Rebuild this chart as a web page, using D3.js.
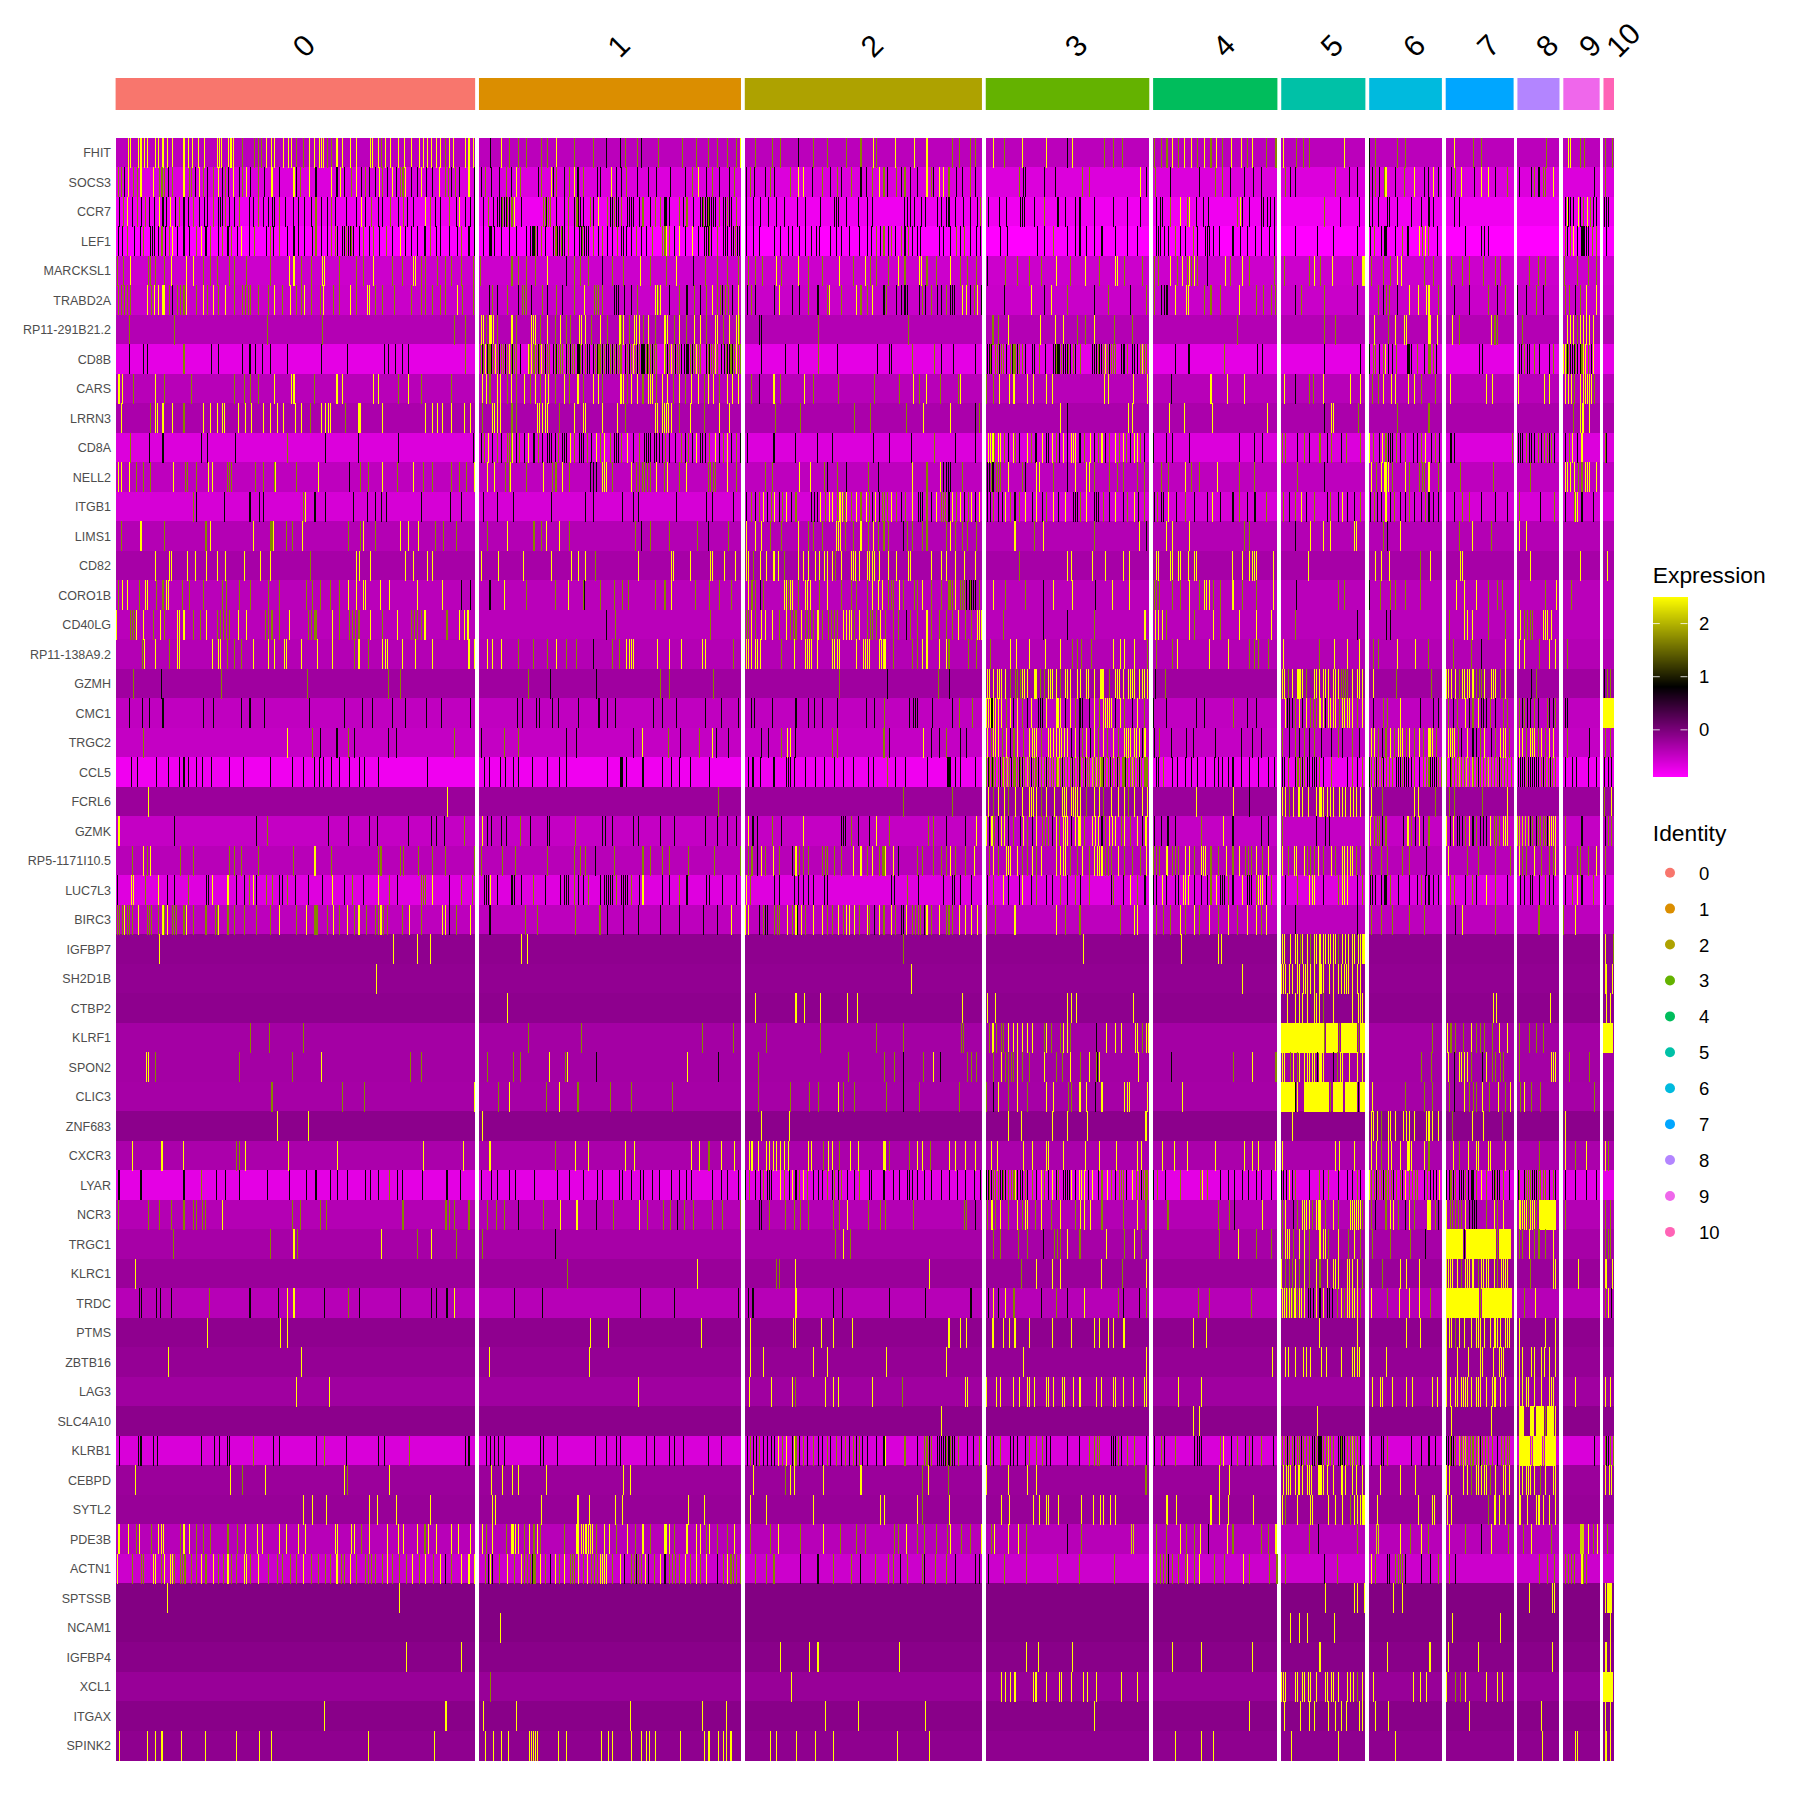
<!DOCTYPE html>
<html><head><meta charset="utf-8">
<script src="https://cdn.jsdelivr.net/npm/d3@7"></script>
<style>html,body{margin:0;padding:0;background:#fff}svg{display:block;font-family:"Liberation Sans",Arial,sans-serif}</style>
</head><body><div id="chart"></div>
<script>
const clusters=["0","1","2","3","4","5","6","7","8","9","10"];
const clusterColors=["#F8766D","#DB8E00","#AEA200","#64B200","#00BD5C","#00C1A7","#00BADE","#00A6FF","#B385FF","#EF67EB","#FF63B6"];
// columns per cluster, with blank spacer columns between groups
const clusterColumns=[376,274,248,171,130,88,76,71,44,38,11];
const spacerColumns=4;
const genes=["FHIT","SOCS3","CCR7","LEF1","MARCKSL1","TRABD2A","RP11-291B21.2","CD8B","CARS","LRRN3","CD8A","NELL2","ITGB1","LIMS1","CD82","CORO1B","CD40LG","RP11-138A9.2","GZMH","CMC1","TRGC2","CCL5","FCRL6","GZMK","RP5-1171I10.5","LUC7L3","BIRC3","IGFBP7","SH2D1B","CTBP2","KLRF1","SPON2","CLIC3","ZNF683","CXCR3","LYAR","NCR3","TRGC1","KLRC1","TRDC","PTMS","ZBTB16","LAG3","SLC4A10","KLRB1","CEBPD","SYTL2","PDE3B","ACTN1","SPTSSB","NCAM1","IGFBP4","XCL1","ITGAX","SPINK2"];
// value of cells with no detected expression, per gene
const baseExpression=[-.43,-.65,-.78,-.88,-.54,-.52,-.38,-.71,-.41,-.32,-.65,-.45,-.61,-.38,-.30,-.42,-.42,-.38,-.25,-.46,-.49,-.78,-.22,-.49,-.41,-.67,-.44,-.14,-.16,-.13,-.28,-.28,-.29,-.12,-.32,-.70,-.38,-.30,-.21,-.40,-.14,-.18,-.25,-.12,-.63,-.22,-.20,-.41,-.54,-.06,-.06,-.10,-.20,-.10,-.14];
// expression levels of the stripe letters
const levels={y:2.5,l:2.2,o:1.7,k:.85};
// for each gene: expressing columns, letter = level, "a-b" = run; before | column index, after | index from column 784
const expressedColumns=[
"y14 16 24 27 31 34 42 45 50 55 60 72 77 81 87 93 107 109 111 119 121 122 124 o133 146 150 153 y158 163 167 176 181 184 o190 197 y203 208 214 216 218 o222 226 y232 238 246 252 267 269 y275 o279 y283 288 296 303 310 y318 322 327 331 336 340 o345 y350 354 366 370 375 k393 y404 o412 422 430 446 452 y462 o480 500 k514 k528 o534 o546 k550 o568 593 608 620 630 640 650 y654 o670 687 696 k715 o730 745 765 780|y9 o12 y32 y52 y65 o92 99 110 116 y135 o146 y165 y190 k212 y217 o251 260 269 o303 310 316 y322 o328 y334 342 o348 y355 o362 y368 o374 y383 394 o400 y405 o420 430 y438 o451 459 465 y502 k528 o534 557 565 y617 o637 645 o713 y736 738 o748 753 o775 782",
"o3 7 k10 y14 o19 23 y27 40 o46 49 52 k56 o60 y72 o78 80 k84 y88 o92 k97 o103 y108 k112 o115 k119 y124 k130 o133 y137 k142 o150 k156 y164 k172 y187 k190 o194 y203 k210 y226 k232 y236 k240 o247 y252 k258 o262 k266 k272 y276 o280 k285 y290 k294 o298 o301 y304 k310 k316 y320 k326 k332 y339 o345 o349 k352 o356 k360 y370 k376 k383 o387 k394 k402 o409 k414 y420 o424 k443 o446 y456 k458 o462 k470 o475 y480 k484 o490 k504 k508 y519 k524 k530 o535 k546 k558 k566 k581 k596 o604 y610 k618 o625 k632 k642 o648 k655 k660 o664 k669 k680 o685 k690 o706 y715 y720 k729 o740 k748 o755 k760 o770 k780|k2 o8 y15 o20 k24 o33 k38 o42 k48 k55 y65 o70 k72 y78 y82 o88 k96 k102 o110 k116 o162 k166 168 188 199 o228 235 y288 k295 o304 k320 k350 o367 374 k382 397 406 415 o440 k445 450 o492 k507 515 k528 531 o534 k538 o543 y545 k555 o564 y575 k585 589 y595 k600 k614 o618 y624 k638 y645 y652 k660 o672 k685 697 o700 k705 o710 712 y720 k763 o775",
"k5 o9 y13 k18 o23 k28 o32 k36 k41 y46 k50 k54 y58 k63 o67 k72 k77 o82 k88 k93 k97 o103 k108 110 112 o115 k120 k125 o130 k140 k145 o150 k155 k160 k165 167 o172 k178 k186 k192 k198 k205 o210 k216 k222 o226 k230 k242 k252 y258 k262 o268 k275 k280 o288 k296 o302 k306 k312 y325 o330 k335 k340 o350 k357 y360 k366 k372 k376 k385 o390 k396 k400 402 404 o405 k407 409 o410 k412 o415 y418 k425 o448 450 k451 o453 455 k462 k470 o474 k480 482 o483 k485 487 490 o497 k500 y505 o515 k518 520 o522 k524 526 o530 k536 538 k540 542 k548 o552 k560 o565 o570 k575 577 580 o590 k594 o598 k605 k612 614 o615 k617 619 o620 k622 624 k626 628 o632 k636 638 o640 k642 645 o650 k660 k668 k675 k683 k692 k700 k714 k722 k738 k752 754 756 k765 k777|k3 8 41 45 48 52 59 63 76 80 85 88 95 103 110 118 o121 k129 141 148 163 165 167 177 o188 k202 210 220 225 240 260 275 288 k305 309 311 o320 y330 o337 y340 k347 354 359 o390 y393 k395 402 415 417 421 424 k428 o481 k497 k517 k528 531 537 547 549 557 572 582 590 595 k617 622 k733 y735 k736 738 741 y746 k748 o752 y756 o759 k762 765 k774 776 778",
"k3 k8 o13 k20 k26 o30 k37 39 41 k45 o49 k53 o57 y60 k65 k72 k78 o85 y90 k95 o100 k108 o112 k118 o122 k128 y132 k140 o146 k158 o162 k166 o172 k180 k187 k192 k198 k206 o210 k216 k222 o226 o230 k233 k238 240 o242 k244 246 o247 k249 k256 o260 k266 o270 k276 o284 k290 y298 k304 k310 k316 k324 o330 k336 k340 k350 k358 o362 k370 k376 k385 k392 394 397 k404 k412 k420 k430 k434 436 438 o440 k442 o446 k450 k458 460 o461 k463 465 o467 k468 470 o474 k480 k486 488 o489 k491 493 495 o500 k505 o510 k515 k520 o525 k530 532 535 k540 o545 k550 k556 o562 o572 575 y577 o580 k585 y590 k596 y604 k610 k616 618 620 o622 k624 o630 k636 638 640 k645 647 o649 k651 653 655 k660 k668 k674 k690 k696 k704 k708 k716 k722 k728 k733 k737 k748 k754 k760 k768 k778|k3 7 o12 k16 o20 k25 o28 k32 o38 k42 o46 k50 k55 58 k78 k82 k90 o96 k100 o104 k110 k117 k121 k142 149 181 188 o197 k212 220 225 232 240 248 262 275 285 k305 307 309 313 318 o325 k330 335 o344 k348 356 358 360 365 371 385 393 400 409 415 423 428 k450 473 490 515 k529 o533 k540 543 545 555 o562 k568 y580 o583 y586 o589 k599 k628 645 648 652 o733 k735 o738 y741 k745 749 751 753 755 757 o761 765 k776",
"o2 9 y16 o35 37 42 52 y59 75 y82 o92 100 107 120 125 137 162 y182 187 o195 205 y217 219 o235 252 260 y270 o290 300 y312 314 o320 325 337 345 352 362 375 o382 415 422 430 440 y452 k472 o480 487 495 k510 o520 532 y549 o560 577 y587 k605 o617 630 640 652 o662 670 677 y692 o697 y715 o725 740 y757 o772|y1 o6 12 25 y35 o42 y57 59 o65 75 y90 o100 107 117 k128 o147 160 172 185 y200 o215 y231 o245 y262 264 o272 290 o303 307 y320 o327 y332 o337 y340 o342 y345 o348 k358 y377 o382 y395 o402 428 o439 465 y470 o477 y489 o510 y520 522 o530 542 550 y557 y561 o585 595 o614 625 632 647 660 665 o695 704 712 o732 745 757 765",
"o3 7 10 13 16 y34 o38 y41 45 y50 52 o57 k60 o65 68 72 y75 o85 y92 o97 y103 o108 y115 o125 133 136 139 142 o150 160 y167 o175 y183 o190 195 y198 o205 215 y218 o228 235 y246 o252 y264 y266 o272 280 o292 310 320 325 o332 340 345 y358 o363 375 k391 o395 k400 o410 k422 o426 428 430 k435 o447 k452 o462 k468 o480 y491 o501 503 505 o510 k522 524 526 k533 k540 o546 y565 567 o568 y570 k580 o590 k598 o606 k612 o618 y625 o630 633 k635 o638 641 k646 y652 k661 o665 k670 k690 y695 k708 k716 o725 k735 o745 y747 o760 y775 o780|o3 y8 k20 o23 k33 38 42 k45 k57 o60 k63 o70 k76 k80 o85 k90 92 94 y102 106 k110 o115 y118 k122 k146 y174 k188 y195 o212 k240 o255 k278 o295 o303 k310 313 316 y325 y336 338 o355 362 372 y392 o410 417 425 429 k450 o457 481 k515 o537 k542 o546 549 k557 y570 579 y587 590 o600 k617 632 o652 k662 o670 k683 692 o702 k710 o733 737 k743 o748 y755 y765",
"o15 62 159 217 355 366 y383 385 o388 y392 394 396 o400 y414 416 o420 y435 437 y440 o445 y452 o460 y466 o472 476 y486 488 y492 o498 y508 o515 y527 529 o530 y532 o538 y543 545 548 o553 y558 o565 y575 y578 o585 y590 o597 y606 y612 o618 y628 630 o636 y642 y650 652 o653 y655 k674 676 o736|o46 o134 140 y150 184 199 208 o222 231 y240 o261 280 o390 o481 492 y533 o548 y555 564 566 589 591 y599 y615 o622 y655 o659 662 o688 y735 738 741 o745 y748 752 755 758 762",
"k15 30 34 o72 k101 108 133 141 147 154 162 180 216 243 282 286 293 300 307 o366 o382 k384 o385 y387 k389 o390 392 k394 o396 y398 o400 k402 o404 406 k408 o410 y412 o414 k416 o418 420 k424 y432 o433 y435 k437 o438 441 k443 o444 y446 o448 k450 o452 454 k458 o460 k462 o464 466 468 k472 o474 k476 o478 480 k484 486 o487 k489 o492 k494 496 k500 o502 k504 o506 508 k510 o512 k514 516 o518 k520 o522 k524 o526 528 530 k534 o536 k538 o540 y542 o544 k546 o548 k550 552 554 o556 k557 o558 560 k562 o564 566 y574 o576 k578 o580 y582 o584 k586 o588 590 k592 595 o597 k598 600 o602 k604 o606 y608 o610 612 k618 o620 k622 o624 626 y628 o630 k634 637 o639 k640 642 o644 k646 o648 y650 o652 654 k676 701 715 755 o736|k13 26 28 o50 73 k80 93 116 k128 130 o131 k132 o137 139 k141 o143 145 k148 o152 k154 o156 158 k160 o162 165 k168 175 177 o183 k189 197 199 o200 k202 204 o206 k208 210 212 o213 k215 o218 k220 o226 k238 240 242 o244 k245 247 o250 y252 o254 k256 o258 260 262 k268 270 272 o275 k280 282 285 o288 y290 o292 295 k325 339 o376 k411 416 k481 518 k528 o532 534 k538 o542 y544 k548 552 o556 k568 570 572 o578 k585 o590 592 595 k598 k643 646 k685 687 o690 k693 695 o700 k706 k716 o720 y731 733 o734 k735 o736 k738 740 742 o743 k745 748 o750 y752 754 o757 k760 y762",
"y4 8 o19 y42 o52 80 125 135 142 150 y167 184 187 o208 y232 238 270 275 o296 y307 o320 352 y384 388 o392 y400 403 o410 y414 o420 y428 o434 y440 o445 y450 453 o460 y470 o475 y484 o490 y500 505 o510 y528 530 532 o536 y540 y546 o552 y558 560 562 o566 y572 578 o584 y590 o596 y603 610 o616 y620 626 o632 y640 646 652 o665 k674 y689 o696 y721 o730 756|o10 36 y51 o57 y64 o79 98 y100 o127 135 y141 151 156 170 176 y190 196 y251 255 281 y296 298 k321 y362 379 397 y439 k450 o465 469 y480 508 518 o531 537 y542 551 555 569 575 o582 597 y612 650 656 y684 711 716 y733 736 739 o742 y748 752 754 756 758 y760 o763",
"y7 o37 y42 44 50 60 o72 y92 100 107 112 114 129 136 143 155 162 170 176 189 195 o204 y216 220 223 225 o241 y255 257 280 y325 332 337 342 352 365 372 o384 y395 397 400 403 o415 420 y442 444 447 450 452 o465 y480 490 492 y510 525 o534 y565 567 y572 574 577 579 582 o590 y602 o616 y632 642 o691 717 773|o6 44 y61 90 k116 o120 y205 k212 y276 280 y319 334 364 421 k481 y488 490 o516 o557 590 o741 y748 751 758",
"o16 k36 50 90 97 126 o180 k220 254 296 375 k383 o386 y390 k395 o400 k404 o410 412 414 y416 k420 o423 k428 y432 k437 439 o443 k447 k452 454 456 k460 o464 k468 470 472 y476 o480 k486 488 490 o494 k498 y503 o508 y512 o518 k522 524 526 o530 y536 k542 o548 k554 556 558 560 k564 566 569 572 o576 k580 k586 o592 k596 o600 k604 y608 k612 614 617 o622 y628 k632 o636 y640 k645 o650 k654 k661 689 711 734 750|k9 26 49 o73 k95 116 y129 131 134 o136 y140 142 o146 k150 y155 o158 k162 y170 o174 k178 180 y186 k190 192 y196 o200 k204 y208 k212 y216 218 220 k224 226 o230 y236 k240 o244 y248 k252 o256 y262 o266 y270 o274 k278 y282 285 o288 k292 k302 315 322 340 392 407 416 o437 440 k452 o460 k465 o476 k484 o488 k498 o504 518 y528 o532 k538 y541 o545 k548 550 552 o556 k560 o565 k574 k578 o582 y586 k593 o597 k601 k613 617 o677 k684 686 688 o692 k695 697 700 o704 k708 o711 714 k716 o718 k721 k733 o737 y740 k745 y750 o775 k776",
"y3 7 15 o22 30 37 y61 o74 76 85 y98 102 o117 120 122 147 155 167 y168 o190 y213 k245 o257 265 y280 o295 y312 o322 332 352 360 367 y376 y389 397 o408 412 y413 o430 y448 o457 460 462 y468 o475 k497 500 503 y510 512 514 o520 y540 o545 548 551 554 557 560 y566 o574 y578 o590 y597 o620 623 626 628 y640 o650 o680 687 y716 727 o742 k745 o755 k765|o4 k14 y50 o65 y79 k82 85 87 90 o102 k128 130 o132 k134 o138 140 142 y150 o165 k168 y180 y183 o197 k212 y220 y232 235 o240 o256 264 270 285 292 o310 318 y335 o342 350 y369 o392 407 o452 k481 y530 o535 y540 543 545 y548 o552 y565 o570 580 583 585 y590 o600 o623 657 o696 y733 735 738 y742 o746 750 y754 756 758 y765",
"o82 k85 114 141 151 155 o197 y199 k209 220 249 264 272 279 284 k320 351 362 k385 400 417 456 492 500 531 542 547 587 618 625 647 k660 o665 k670 o674 y678 k682 o686 y690 k695 o698 y702 k707 o712 k728 731 734 y738 o743 y747 750 o755 y758 761 o763 y765 o770 y775 o780|y2 o5 k8 y11 k15 o18 21 24 y28 o33 k38 o43 y50 k56 58 60 o65 k70 y75 o80 82 84 k88 y92 o96 y100 k104 o108 y112 k116 y120 k128 131 o135 k140 144 y147 o152 k157 o162 y168 k175 y180 k186 o190 y197 k203 y210 k218 220 222 o226 y232 k240 242 244 o250 k256 y262 k270 o275 y282 k286 o292 k303 o306 k310 312 y318 k326 o335 k345 358 y364 k372 385 o392 k400 408 o420 o438 k444 o450 y457 k462 o470 k484 o487 k495 y500 k505 k512 o518 k529 o533 k536 540 y545 k550 o554 k560 k565 o570 k575 k582 o586 k590 k595 k600 k617 o625 632 k645 660 672 o685 k707 o721 k733 o742 y743 745 k750 762",
"o7 y27 o52 95 y100 y145 o162 164 y166 o179 185 y196 o244 o257 y260 o272 y298 y307 y317 o335 343 357 o389 y410 o438 446 y451 465 o475 544 k550 o560 580 609 k620 o641 y660 670 y676 o685 o697 y715 o725 730 740 y754 756 759 o764 772 y780|o4 y9 o14 20 25 k40 o45 50 60 65 85 y90 o95 102 107 117 y157 o177 y187 o240 y287 k295 y315 322 340 o397 402 k450 y466 480 487 y512 514 o542 k547 y560 o622 y635 o655 y685 692",
"y42 57 59 76 84 96 107 115 135 152 162 o204 y252 256 267 304 312 327 332 y383 401 427 456 477 485 492 o502 y547 582 584 602 623 625 637 649 y660 662 o668 y675 681 688 690 694 o700 y715 720 725 y732 737 742 745 y750 o753 y760 770 772 774 y778|y3 5 8 10 15 25 33 y46 48 70 80 85 y95 104 116 o162 y212 216 238 y252 270 277 y305 307 320 322 328 330 338 345 347 y384 395 402 405 407 410 427 y464 y534 540 549 o581 y592 y623 625 y696 y748 y777",
"o3 y8 13 o25 y32 34 o43 50 y54 56 o70 78 92 112 116 130 142 160 172 200 206 215 225 235 y244 252 260 262 y277 287 y316 342 k362 372 k392 y407 o430 460 y474 o490 k491 o508 522 531 537 565 575 y582 o607 622 632 645 y662 o666 670 k675 o678 y700 702 o704 y706 708 o715 y722 724 727 o737 y745 o760 770 775|o3 y8 14 18 o25 28 30 y36 o40 52 55 y60 o70 80 88 90 92 y95 o100 102 104 k106 109 o110 k112 114 116 o120 y135 o147 168 k187 y197 217 k241 y259 277 o303 305 308 o322 330 y340 o350 y355 357 360 o365 372 y385 o395 410 y427 k451 o495 502 k528 o539 550 555 o565 581 y619 627 640 o652 662 667 o685 712 y723 o739",
"y1 o16 18 20 y22 30 o40 y47 o52 y65 67 72 o82 89 y96 o107 110 113 116 120 y129 137 o157 160 163 165 172 y182 o202 205 208 210 y227 o235 o245 248 251 255 y267 o280 y295 o310 313 316 320 y324 o347 y360 365 369 k514 o523 623 o660 662 y665 o670 y676 680 687 o695 y702 o706 709 712 y718 o722 725 727 730 y735 o740 746 749 752 o755 y762 765 768 770 o773 y778|o3 6 8 12 y16 o22 30 35 k44 o48 55 y65 o70 78 85 92 y98 o105 112 y118 120 122 o145 k187 212 o240 y293 y304 307 311 o315 y340 o345 y365 o372 y392 410 425 o450 k515 k546 550 o611 y627 630 635 o652 670 y686 o690 693 696 698 y710 712 714 718",
"o29 y31 42 o57 y65 67 y102 y108 110 o117 125 132 y145 160 167 y177 179 195 y212 227 o250 y255 o265 y280 283 285 300 314 332 370 376 378 y389 395 404 o422 437 o452 y462 o472 482 k500 o520 527 y535 538 540 542 567 580 592 614 617 o647 y660 662 665 y670 672 675 o697 y710 722 724 726 728 734 y750 752 755 757 775 783|y1 3 5 15 17 20 22 o30 50 55 y60 65 78 y85 o88 108 117 o131 y152 159 172 189 205 o217 222 227 237 y260 267 272 y282 o296 o305 322 y327 360 380 o402 407 412 422 y438 o475 y491 505 517 o532 537 y557 576 o589 o616 634 k645 y670 y685 690 o706 y716 722 o735",
"o19 k48 o111 201 286 298 o432 k455 503 o570 580 626 o757|k24 o77 k89 y128 130 135 139 141 143 147 o152 158 160 163 y165 167 170 y177 179 o184 188 y192 194 196 y200 o205 y210 212 215 y222 226 232 234 y240 y246 248 250 o256 y262 264 266 y270 y276 278 280 282 y287 290 292 296 k304 o314 y437 439 o443 y447 452 454 456 458 o462 y470 472 475 480 482 485 490 492 495 o498 501 503 505 y510 515 517 520 y532 o556 593 y608 610 614 618 o622 y625 627 630 632 636 o640 643 645 y648 655 657 660 o665 y670 k697 o702 k774 o777 780",
"k15 29 36 50 92 103 132 141 156 203 240 259 269 290 304 326 341 372 k421 426 441 444 457 464 485 506 515 523 563 572 587 617 634 652 k665 669 687 712 725 731 740 755|k2 10 o21 k47 51 53 55 71 92 o99 113 y127 129 131 k133 y135 137 140 143 o148 y152 k155 y160 o165 k170 y174 k182 184 186 y190 y200 202 205 k210 y215 o220 k225 228 k235 y240 o245 y250 252 254 256 258 k262 y267 o272 k280 y285 o292 k302 315 347 355 o386 k400 410 y440 k442 444 447 o450 y455 k458 y462 o466 469 472 y475 477 480 k482 y485 487 490 492 o496 y500 502 505 507 510 o515 y520 k532 o542 547 y560 k581 595 600 o610 k616 o620 y628 k632 o636 y642 k645 647 650 o654 k660 o668 672 o685 k688 o690 k693 696 o700 k704 o714 k716 720 o722 k733 735 y773-784",
"o30 y180 o206 k215 232 o244 k250 286 294 o355 k383 o407 422 k472 482 542 y551 o579 k591 o611 y625 k629 641 k676 683 o697 y703 706 k711 o750 755|o20 k26 y61 k70 78 o85 k100 106 y128 o132 y135 137 140 o144 y148 k152 o156 y160 o166 y172 175 177 180 o185 y192 194 197 200 y204 206 209 212 k216 y220 k224 o228 y232 k236 y240 o244 y250 o254 y260 o265 y272 274 276 278 y282 284 287 k290 y293 k303 o308 k321 336 344 367 394 405 415 o437 k444 o450 k455 o460 k465 o470 k478 k488 o495 k500 o510 k517 y530 533 o537 k541 o545 y550 o554 y558 560 562 o566 y570 o575 y580 o584 y590 592 594 o598 y610 612 615 617 o621 k624 y630 k635 637 640 o644 y648 k655 o660 y665 668 670 o674 y685 688 o692 y696 698 700 o704 y708 o712 y716 720 o735 k758 o775 780",
"k17 23 43 56 67 72 77 85 91 101 120 134 162 185 197 208 214 218 226 235 245 256 261 275 327 k386 391 403 408 417 422 436 452 465 472 515 529 531 535 552 572 582 590 602 622 k662 667 675 689 702 704 706 710 722 732 742 752 762 772|k4 9 o24 k32 43 66 86 88 90 95 100 116 o127 k129 o130 132 k134 o135 137 140 k142 o144 l145 o147 l149 o151 k153 o155 157 160 k162 o163 k165 o167 l170 o172 k174 o176 178 180 k182 o185 188 k190 o192 195 197 200 l202 o205 k207 o209 212 215 k217 o219 222 k224 o226 229 k231 o233 235 l238 o240 l242 o244 l246 o248 k250 o252 255 k257 o259 262 k264 o266 269 271 k273 o275 278 l280 o282 285 k287 o289 292 294 296 k305 307 o312 k322 327 335 342 348 356 366 370 374 380 385 394 402 412 422 428 k437 439 o443 k450 o453 456 k458 o460 k463 465 468 470 472 o475 k480 o488 k505 o510 k515 o520 k528 o530 533 k535 o537 540 k542 o546 549 552 k556 558 560 o562 k564 566 569 572 o575 k580 o584 587 590 k592 594 596 598 o600 603 o608 k612 o614 617 620 l622 o624 627 l629 o632 l635 o637 640 k642 o644 647 650 l652 o655 658 662 k664 o666 669 672 676 k684 686 688 690 o692 k694 696 698 700 702 704 o708 k710 o712 715 k717 o719 722 k733 740 744 757 765 k774 778 781",
"y35 348 o631|o40 92 y129 o135 y140 146 o150 y158 y165 172 174 176 y180 o185 y190 198 y207 209 211 y216 218 220 222 y226 o232 y240 y245 o250 y258 265 y272 o276 y282 y290 y296 y347 386 k402 y437 440 o444 y448 454 458 y464 y472 476 478 480 y484 487 490 y496 500 503 y508 511 514 518 y530 o541 y575 579 o597 o611 617 646 y672 o774 y781",
"y4 k62 148 o159 k223 244 266 274 307 331 336 344 o365 y384 k389 394 404 409 o424 k434 452 454 o481 k510 513 520 542 547 570 585 617 630 640 650 y662 k667 672 o687 k697 y720 k760 762 764 o770 k777|k5 y12 o26 o67 72 k85 105 y117 y127 k130 y133 o136 k140 y143 146 k150 o155 k163 y166 o170 k175 y180 o186 189 192 k196 y200 o204 y208 210 212 k216 y220 223 225 o230 y238 241 244 k248 o252 y256 259 262 o268 y272 o278 y285 k290 y294 k303 310 317 325 o352 y375 k385 415 422 o437 k472 482 486 y529 o533 536 538 k541 o545 k563 y568 o572 k576 y580 k584 o590 y608 k612 y616 k620 622 625 o628 y632 k636 o640 k644 647 650 y654 o658 661 664 y668 670 672 l683 685 688 691 694 k696 o698 k702 o704 707 710 712 k714 y716 718 720 722 o733 k750 k775 o778 781",
"o18 y30 o34 y37 o68 82 120 125 132 150 186 y209 o226 275 278 298 302 317 332 345 376 o383 405 419 452 480 487 492 k502 o522 552 560 572 580 600 627 654 o662 666 k672 y676 o680 y688 o695 k708 y712 o716 720 725 o740 743 745 o752 760 y772 780|o3 y8 o15 18 20 y22 30 k35 o55 60 72 o80 85 y90 o95 105 y115 o130 y135 o140 y148 150 152 y160 o165 170 y175 o180 y185 200 y205 208 210 o215 222 y228 o235 y240 243 245 248 o252 255 258 y265 o272 280 288 y295 o302 305 308 y316 o322 325 328 y335 340 o345 y352 354 356 o362 370 y378 o385 y392 o398 401 404 y410 o416 y422 y437 o443 y449 451 y460 o463 466 470 y474 o480 y488 o492 y500 502 505 y508 510 o514 518 o530 540 547 562 570 k587 y610 o630 642 660 675 y685 o688 692 y700 o708 716 720 y722 y733 o745 748 757 y765 o775",
"k2 y17 19 o32 y45 k55 62 o77 k96 98 y102 y118 k127 135 o140 y145 k148 o158 165 k172 175 o180 k189 202 217 y227 k240 o248 k260 y275 o287 k295 o320 322 325 y332 k350 o362 374 k386 388 390 y393 k400 414 416 418 k425 o437 k450 k466 470 472 474 o480 k485 490 o495 k508 512 514 516 518 520 o524 k530 532 534 536 o540 k548 y552 k572 580 o590 k598 k618 622 k635 650 y660 o664 k690 k695 710 715 720 725 k730 k742 k745|k28 31 o45 k56 82 92 94 100 112 k128 o135 y145 k150 k162 y165 k174 o180 k190 k196 o205 k212 o220 k226 o235 k258 o260 k270 y278 o285 k293 k302 305 y311 k315 k325 328 y333 335 338 k345 k352 k358 o362 y368 k372 374 376 o380 k385 y395 k400 402 404 o410 y412 414 416 k420 o425 k440 o452 y465 468 470 k480 o495 y500 502 505 k515 o520 k529 531 534 k540 543 545 o550 k558 k570 k578 o582 k586 k590 k595 k600 o612 617 k628 o635 k640 y650 o660 k672 k686 690 696 698 k706 o712 k716 720 k733 o740 y745 k750 o762 k775",
"o2 5 8 y10 o13 15 18 y24 o34 36 38 o45 y50 o52 y55 o60 62 64 o72 y75 o82 o95 o105 107 y108 o118 o125 o135 148 o162 y172 o190 y200 o208 210 212 o222 y228 o235 y243 o250 y255 o263 o272 275 y278 o281 285 o300 y308 o320 y342 345 k350 o357 y372 k392 o429 442 481 507 k515 532 547 570 590 k615 630 y645 y659 662 k674 o678 k680 682 o690 693 695 y703 o708 y712 k714 y718 o722 y730 y740 o745 750 y756 o762 y765 768 y773 o778|y3 o5 k10 y15 o20 y28 o32 k38 k40 y44 o50 53 56 58 k62 y65 o70 y78 o85 88 92 y99 105 112 118 o127 137 y157 200 o210 225 o267 y282 285 o305 312 o320 y330 o335 y345 o350 y360 o370 y380 o390 y400 410 o415 y420 k450 515 o530 540 552 o570 o585 k618 y625 o660 o705 o731 y743",
"y46 291 316 330 y425 431|o40 y229 y331 370 373 y437 439 y445 y450 452 o456 y458 y463 o466 y470 472 y476 y480 482 485 487 490 492 o495 y500 503 506 y510 512 y516 518 520 522 y775 o783",
"y273|y49 y395 y436 438 440 444 y447 452 455 459 461 463 466 470 y476 478 480 y486 490 y495 498 502 504 506 510 515 518 y775 776 782",
"y410 y670 712 721 738 766 776|y102 y128 137 212 216 221 281 y442 450 455 458 463 470 472 475 o480 y490 y510 y516 518 520 y657 661 y717 y776 y780",
"o142 161 197 o432 488 614 647 o681 738|o12 40 101 103 o130 y134 o138 143 145 y150 155 y160 165 170 175 o188 y190 o195 205 y208 212 o215 k242 y253 262 268 y283 285 o290 y295 297 y436-480 o481 y483-494 o496 y498-514 o516 y518-523 o594 y609 o613 618 626 y634 o640 644 648 656 y664 y672 o685 695 702 710 y773-782",
"y33 35 o42 130 185 y216 o309 320 o389 417 424 y454 o471 y473 k503 y599 k631 o673 767|o21 31 k40 o61 y72 k79 o107 112 117 o135 y143 o147 150 153 155 y160 o165 172 y188 o200 207 y215 o226 y235 o242 k243 y245 y286 k321 o386 y405 o430 y437 439 o445 y448 o452 y455 y460 463 465 468 470 k473 y476 478 480 k490 o494 y497 500 y507 515 y520 o582 593 y610 k617 y622 624 627 630 o634 k646 y650 o656 660 665 o668 o685 y718 720 722 o737 758",
"o164 238 261 y376 o401 y412 o451 y465 o484 518 540 583 o673 706 726 736 y756 o762 773|o23 k40 o57 99 o127 k135 y140 o150 y160 o170 y190 y197 o213 216 y225 232 k241 y248 y272 275 277 y296 y332 y436-449 k450 y452 y460-485 o487 y490-500 y503-514 k516 y518-523 y531 o565 585 594 o611 k617 y627 o632 637 640 y646 o653 y663 o670 y675 o686 y690 o697 707 o763",
"y170 202 y384 y676 705|y150 164 196 212 233 294 y447 y530 532 536 o540 y548 550 y555 y563 566 y570 y575 y587 590 y594 y600 o615 y635 647 o667 y733",
"y18 49 71 o127 130 y136 181 233 322 364 y392 o460 y481 495 534 543 603 611 o621 y634 648 655 y663 666 673 681 684 688 692 696 700 704 725 728 o741 y746 750 o757 y769 777|y20 22 o26 47 y55 60 o69 y89 95 105 116 y132 139 166 175 190 192 208 231 245 263 285 289 y311 324 337 367 397 405 412 429 y437 492 496 512 y530 y535 o540 y548 551 y560 568 570 572 585 o590 y616 o622 y631 640 642 652 654 670 o706 y733 o743 y755 y775 o778",
"k4 27 72 o90 k106 115 130 159 182 200 210 225 233 243 262 267 275 o287 k295 300 321 347 361 k383 394 400 412 419 439 463 475 490 504 510 527 531 540 549 553 562 569 582 590 597 603 625 634 640 652 k659 o663 k670 k675 o678 k682 684 686 y696 o700 k705 y708 k712 o716 y720 o724 k730 k736 k740 o745 k750 o752 k756 o760 k766 k773 o778|k5 7 20 30 36 45 47 50 55 62 70 80 89 97 105 115 121 k127 129 o130 k132 o135 137 140 k142 144 o145 k147 o150 153 156 y158 k160 163 165 o168 k170 o175 k180 y185 o188 k192 y196 k200 o203 k208 210 212 214 y216 k220 y224 227 230 k234 y238 k244 o248 y254 o258 k262 o266 268 270 k274 y280 o284 287 k289 o291 294 296 k302 o306 k314 o330 o351 y353 o358 k372 380 387 395 401 410 415 425 k436 438 441 y444 k447 o450 k465 o475 k480 o485 k495 k505 k510 o515 k518 y528 o530 533 k535 o537 540 k542 o545 548 551 k553 o556 560 k562 y565 o570 573 576 578 k585 o588 k592 595 598 y601 k608 611 o613 k616 o618 k622 624 626 o628 k631 634 636 o640 y645 o650 k656 659 o660 k662 664 o668 k674 k684 o685 k690 o692 694 696 k698 700 702 o704 707 710 712 k716 o720 k722 k733 743 755 765",
"o3 35 46 59 72 82 85 91 94 y112 o185 194 215 221 301 346 350 355 370 o389 399 407 k422 o448 y466 483 k503 o521 y548 o557 573 581 k588 o595 605 625 635 654 k674 676 o684 o701 710 717 725 751 757 y766|o4 16 22 51 104 106 k116 o128 y133 o137 y142 o150 y160 o165 y168 170 o178 y185 o195 y205 o220 y226 y230 y236 o248 o270 y285 o294 o317 370 381 k387 y416 o437 y440 k448 o452 y458 460 462 465 o468 y472 474 476 o482 y490 o495 y508 510 512 514 516 518 o520 o530 k534 o545 y550 553 o558 k565 y570 o575 y588 590 592 o597 k600 y608 o612 615 618 621 624 y628 k632 635 638 640 o650 y658 o662 y668 y685 686 688 690 692 o694 y696 698 700 o702 y706-722 o733 o775 780",
"o61 162 y187 o191 y279 o316 y331 o357 o384 k460 o753 y762 o769|o135 142 161 170 k187 o198 201 205 y212 o225 y253 o272 y282 o289 o371 y391 o410 425 o437 y440 442 444 o448 y455 460 o465 y475 477 480 482 o485 y495 o506 y512 o518 o531 550 571 k586 y608-625 k627 y629-660 o662 y664-675 o685 688 y695 o700 705 712 y720 o775 778 780",
"y21 o473 y609 o692 695 y711|y68 o164 y180 196 205 247 o269 y295 y436 o440 444 447 y450 o455 y460 o465 y472 o476 y484 y490 492 495 y505 507 510 y515 o520 o541 y560 566 580 y608 610 612 615 y620 o624 y628 630 632 y636 o642 y645 647 650 652 y658 o662 y666 668 670 672 o696 y720 722 y746 y775 776 y782",
"k25 28 43 47 59 o99 k141 171 y180 187 k219 o244 k256 298 331 336 347 y355 k418 447 549 585 652 k662 667 y712 k751 761|k26 63 111 k129 y135 k140 y147 o156 k185 o200 k212 y230 o265 k270 k287 o295 o349 360 404 y437 439 441 o442 y444 446 o447 y449 450 o452 y455 457 460 k464 466 469 y472 k476 y480 k484 486 489 o494 y498 o502 y505 507 510 512 515 o518 y530 o547 y559 570 580 o592 y608-642 o644 y646-676 o690 y701 o775 y778 k781",
"y97 173 180 y497 516 613 y664 709 711 739 751 771|y88 100 106 y134 145 151 157 172 196 216 240 245 255 260 271 y344 357 y475 515 y566 581 y608 611 614 o618 y622 627 y634 640 642 644 y648 654 658 660 662 665 670 672 674 y685 712 722",
"y56 195 y391 496 y664 678 730 745|y23 85 y166 295 y426 y440 443 450 y459 462 y466 478 483 y498 y510 512 515 517 y546 y608 620 631 644 646 657 y664 666 668 y685 688 697 700 708 711 716 722",
"y190 224 y547 y663 686 708 o711 y743 751 756|y8 o39 y105 107 y127 138 142 155 y162 170 172 177 190 192 y197 y207 209 y218 225 y242 247 y260 262 270 y281 y292 295 y328 352 y531 539 541 552 566 573 594 599 y608 612 618 620 y624 626 628 630 634 640 642 644 y650 656 658 660 665 y670 y685 y688 692 694 700 708 y716 718 720 y743 y775 780",
"|y80 y344 350 y473 y614 655 y685-689 y696-699 702-710 o712 y714-720 y722",
"k5 24 27 40 44 90 104 109 117 120 o145 k166 172 211 o219 k242 275 282 o308 k366 370 k388 393 397 401 407 445 448 463 502 514 524 528 556 564 580 585 594 620 634 k661 o664 k668 671 o674 k678 k682 k686 k690 y694 o698 y702 k708 y710 o712 k716 o720 k724 o730 k736 k740 o745 k748 o754 k760 o764 k768 o772 k775 o778 k782|k3 12 20 y22 o42 k55 o62 64 66 k68 o70 k76 78 80 82 k84 o85 k87 89 o90 k92 94 o98 k107 114 o120 k127 o131 k135 o142 k152 155 160 168 o172 o180 186 k190 194 212 224 o235 240 243 245 k258 260 262 o265 k268 o275 282 k295 k303 o310 k313 o325 k345 348 350 352 o372 y375 k383 o390 k398 o402 k405 o415 k427 o437 440 k442 o444 447 k449 o452 455 k457 o459 462 465 k468 470 o472 k474 476 478 o480 483 l485 o487 490 k495 497 o498 k500 502 o505 508 l510 o512 515 k518 k530 540 542 o547 k572 582 590 597 k608 610 o612 k614 616 o618 l622 o624 l626 628 o630 633 636 640 l642 k644 o646 649 652 o656 k662 o666 669 672 674 y685-695 l697 y699-708 l710 y712-722 k763 o775 k776 778 o780 783",
"y21 121 o133 y157 240 o243 y287 y394 405 416 422 451 532 539 y668 o701 y706 710 741 780|o60 y67 o87 y127 150 170 180 o294 y371 381 y438 441 443 445 y450 454 y458 y463 465 467 y474 476 478 480 y484 y490 y498 500 503 y510 514 520 y539 560 576 y608 611 y626 630 o634 y640 642 645 648 650 o654 y660 668 670 674 y685 688 692 694 696 y700 o707 y712 720 722 y775 y779 781",
"y197 206 221 266 274 294 330 y395 398 446 484 496 523 531 600 616 y664 681 730|y16 21 55 o60 y89 y143 151 176 183 190 192 203 227 239 246 250 257 262 y316 326 362 371 380 406 y437 o440 y452 466 468 485 492 500 o508 y512 515 518 520 522 y536 579 594 596 y609 614 o652 y658 660 664 y670 y685 686 693 702 705 710 716 722",
"y3 5 14 o22 y25 o38 y45 48 51 o68 y72 78 o85 92 100 o118 128 y136 149 154 172 179 192 199 y230 233 247 250 o258 y266 285 296 302 316 o324 y328 336 352 359 372 y384 o388 y395 o409 y415 417 419 422 o428 y433 o438 y442 o445 470 y483 485 488 490 y492 493 495 497 499 o503 y512 517 o524 y536 o544 y552 o560 y575 577 580 o585 y598 y608 612 o618 y622 o630 640 y648 o664 685 y694 o717 y741 o759 775|o1 31 35 y44 o55 62 75 86 y90 o101 110 y122 o132 y136 150 161 o169 k212 o227 l279 281 o305 315 y330 o336 345 y351 k359 y379 o385 415 422 y430 o465 k474 o515 l535 537 y560 o571 y582 o589 y611 o628 k645 y655 o673 o689 y697 o718 l748 750 752 y757 o762 y766 o777",
"y2 o18 o28 30 y40 42 o48 y52 y58 60 o62 68 70 73 80 85 y90 o95 y103 o108 113 y118 o122 127 y135 137 o142 y150 o160 170 175 183 190 y197 o205 213 220 225 y232 o237 240 y246 o252 262 265 268 272 o280 y285 o290 297 305 y311 o318 y325 o333 y340 k345 o352 y362 y370 y376 378 o387 k390 y393 k395 o402 y410 o418 y425 o428 431 434 k436 o438 440 y445 o450 k455 y460 o465 y470 o476 478 480 y485 o490 y494 o498 501 504 y508 510 512 514 o520 y528 k533 o540 543 k545 o547 550 y555 k558 o564 y570 k575 o580 583 586 590 y596 o602 y608 o612 y618 k630 o636 y640 o644 647 650 654 o670 681 689 k717 k735 o751 770 k779|o11 25 30 k37 o45 60 k62 o74 85 k95 116 120 k129 o146 169 201 224 261 o305 309 312 315 k318 o322 328 o335 y337 o345 y350 o366 376 y396 o402 423 431 o440 k481 o494 y530 o534 k547 549 o555 558 560 562 k565 k582 k592 o600 o611 k618 o706 714 721 o733 736 739 742 752 y750 o755",
"y55 297|y482 512 515 y523 y553 562 y695 719 721 y775 777-781",
"y403|y445 455 463 491 y615 665 y780",
"y305 362 y696 726 735|y36 y169 182 217 y322 352 405 y476 y547 591 y610 642 y719 y775 776 780",
"o393 y707|y143 147 152 157 176 179 190 204 206 216 229 233 242 268 285 y436 438 440 y450 452 458 460 y464 466 472 y482 484 488 490 y495 y505 508 511 o515 y520 y532 574 581 587 y608 o618 623 y628 y650 662 667 y773-782",
"y219 346 y385 420 539 614 639 y743 777|y63 y240 y402 y439 456 465 470 485 492 498 504 517 520 y534 548 y632 y708 y775 780",
"y5 34 42 49 69 94 127 151 163 265 334 y387 396 404 411 433 435 437 440 442 464 472 509 516 520 540 550 556 559 565 591 616 621 631 636 639 644 y685 692 713 732 751|y34 68 y325 352 365 y446 495 y555 y709 y743 745 y775 776 780"
];
const expressionTicks=[0,1,2];
const legendRange=[-0.88,2.5];

const W=1800,H=1815;
const svg=d3.select("#chart").append("svg").attr("width",W).attr("height",H);
const totalCols=d3.sum(clusterColumns)+spacerColumns*(clusters.length-1)+1;
const x=d3.scaleLinear().domain([1,totalCols]).range([115.6,1614]);
const y=d3.scaleBand().domain(genes).range([137.7,1760]);
const color=d3.scaleLinear().domain([legendRange[0],(legendRange[0]+legendRange[1])/2,legendRange[1]]).range(["#FF00FF","#000000","#FFFF00"]).clamp(true);

let s=1;
const spans=clusterColumns.map((n,i)=>{const a=s;s+=n+spacerColumns;return {cluster:clusters[i],start:a,end:a+n,color:clusterColors[i]};});

// group bar
svg.append("g").selectAll("rect").data(spans).join("rect")
 .attr("x",d=>x(d.start)).attr("width",d=>x(d.end)-x(d.start)).attr("y",78).attr("height",32).attr("fill",d=>d.color);
svg.append("g").selectAll("text").data(spans).join("text")
 .attr("transform",d=>`translate(${(x(d.start)+x(d.end))/2+10},59) rotate(-45)`)
 .attr("font-size",30).attr("fill","#000").text(d=>d.cluster);

// heatmap background per gene and cluster
const heat=svg.append("g").attr("shape-rendering","crispEdges");
genes.forEach((g,i)=>{
 heat.append("g").selectAll("rect").data(spans).join("rect")
  .attr("x",d=>x(d.start)).attr("width",d=>x(d.end)-x(d.start))
  .attr("y",y(g)).attr("height",y.bandwidth()+.5).attr("fill",color(baseExpression[i]));
});
// expressing cells
function parse(str){
 const out=[];
 str.split("|").forEach((part,side)=>{
  let lev="y";
  for(const m of part.matchAll(/([a-z])|(\d+)(?:-(\d+))?/g)){
   if(m[1]){lev=m[1];continue;}
   const a=+m[2],b=m[3]?+m[3]:a;
   for(let c=a;c<=b;c++)out.push({col:c+side*784,v:levels[lev]});
  }
 });
 return out.filter(d=>spans.some(t=>d.col>=t.start&&d.col<t.end));
}
genes.forEach((g,i)=>{
 heat.append("g").selectAll("rect").data(parse(expressedColumns[i])).join("rect")
  .attr("x",d=>x(d.col)).attr("width",d=>x(d.col+1)-x(d.col)+.1)
  .attr("y",y(g)).attr("height",y.bandwidth()+.5).attr("fill",d=>color(d.v));
});

// gene labels
const ax=svg.append("g").attr("transform","translate(111,1)").call(d3.axisLeft(y).tickSize(0).tickPadding(0));
ax.select(".domain").remove();
ax.selectAll("text").attr("font-size",12.5).attr("font-family","'Liberation Sans',Arial,sans-serif").attr("fill","#4D4D4D");

// legend: expression
const lx=1652.8,lw=34.7;
svg.append("text").attr("x",lx).attr("y",583).attr("font-size",22.8).attr("fill","#000").text("Expression");
const ly=d3.scaleLinear().domain(legendRange).range([776.6,597]);
const stops=d3.range(0,180);
svg.append("g").attr("shape-rendering","crispEdges").selectAll("rect").data(stops).join("rect")
 .attr("x",lx).attr("width",lw).attr("y",d=>597+d).attr("height",1.2).attr("fill",d=>color(ly.invert(597+d+.5)));
const lt=svg.append("g");
lt.selectAll("line.a").data(expressionTicks).join("line").attr("class","a").attr("x1",lx).attr("x2",lx+7).attr("y1",ly).attr("y2",ly).attr("stroke","#fff").attr("stroke-width",.8);
lt.selectAll("line.b").data(expressionTicks).join("line").attr("class","b").attr("x1",lx+lw-7).attr("x2",lx+lw).attr("y1",ly).attr("y2",ly).attr("stroke","#fff").attr("stroke-width",.8);
lt.selectAll("text").data(expressionTicks).join("text").attr("x",1699).attr("y",d=>ly(d)+6.5).attr("font-size",18.5).attr("fill","#000").text(d=>d);

// legend: identity
svg.append("text").attr("x",lx).attr("y",841).attr("font-size",22.8).attr("fill","#000").text("Identity");
const ky=d3.scalePoint().domain(clusters).range([872.7,1231.9]);
svg.append("g").selectAll("circle").data(spans).join("circle").attr("cx",1670).attr("cy",d=>ky(d.cluster)).attr("r",5).attr("fill",d=>d.color);
svg.append("g").selectAll("text").data(spans).join("text").attr("x",1699).attr("y",d=>ky(d.cluster)+7).attr("font-size",18.5).attr("fill","#000").text(d=>d.cluster);
</script></body></html>
